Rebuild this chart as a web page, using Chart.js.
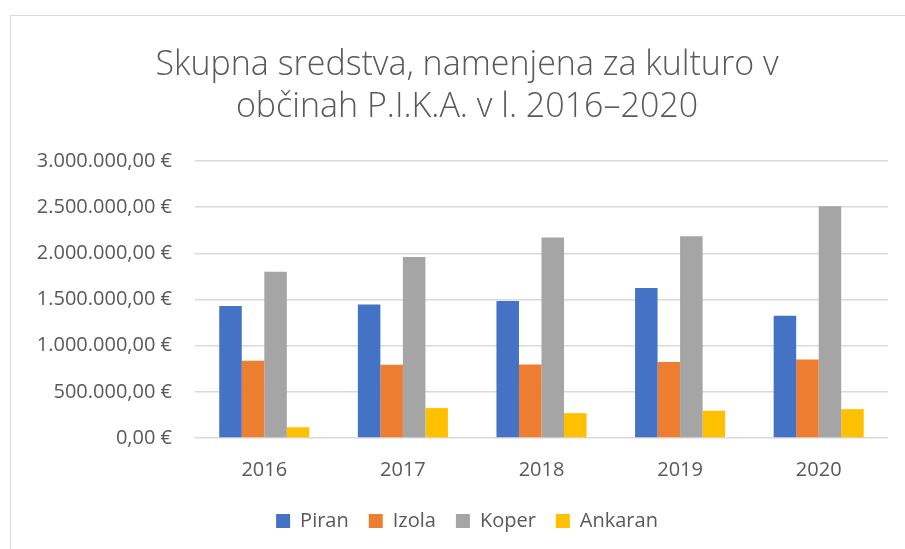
<!DOCTYPE html>
<html>
<head>
<meta charset="utf-8">
<script src="https://cdn.jsdelivr.net/npm/chart.js@4.4.1/dist/chart.umd.min.js"></script>
<style>
  html, body { margin: 0; padding: 0; background: #fff; overflow: hidden; }
  #frame {
    position: absolute; left: 10px; top: 15px;
    width: 912px; height: 545px;
    border-left: 1px solid #d9d9d9; border-top: 1px solid #d9d9d9;
  }
</style>
</head>
<body>
<div id="frame"><canvas id="chart" width="912" height="545"></canvas></div>
<script>
const years = ["2016", "2017", "2018", "2019", "2020"];
const piran = [1430000, 1447000, 1484000, 1625000, 1324000];
const izola = [836000, 793000, 796000, 822000, 851000];
const koper = [1800000, 1960000, 2171000, 2185000, 2509000];
const ankaran = [116000, 324000, 269000, 295000, 313000];
const titleLines = ["Skupna sredstva, namenjena za kulturo v", "občinah P.I.K.A. v l. 2016–2020"];

// 1500000 -> "1.500.000,00 €"
function euro(v) {
    const s = Math.round(v).toString().replace(/\B(?=(\d{3})+(?!\d))/g, ".");
    return s + ",00 €";
}

const textColor = "#595959";
const font = "'Open Sans', 'Liberation Sans', sans-serif";

// long euro labels stick out past the padding; widen the clip box of the y axis
const unclipLabels = {
    id: "unclipLabels",
    afterLayout(chart) {
        chart.scales.y.left = 0;
    },
};

const ctx = document.getElementById("chart");

new Chart(ctx, {
    type: "bar",
    data: {
        labels: years,
        datasets: [
            { label: "Piran", data: piran, backgroundColor: "#4472C4" },
            { label: "Izola", data: izola, backgroundColor: "#ED7D31" },
            { label: "Koper", data: koper, backgroundColor: "#A5A5A5" },
            { label: "Ankaran", data: ankaran, backgroundColor: "#FFC000" },
        ],
    },
    options: {
        responsive: false,
        animation: false,
        maintainAspectRatio: false,
        datasets: {
            bar: { categoryPercentage: 0.65, barPercentage: 1.0 },
        },
        layout: { padding: { left: 35, right: 35, top: 28, bottom: 20 } },
        scales: {
            x: {
                afterFit(scale) { scale.height = 53; },
                grid: { display: false },
                border: { display: false },
                ticks: { color: textColor, font: { family: font, size: 20 }, padding: 12 },
            },
            y: {
                min: 0,
                max: 3000000,
                afterFit(scale) { scale.width = 149; },
                grid: { color: "#d9d9d9", lineWidth: 1.5, drawTicks: false },
                border: { display: false },
                ticks: {
                    stepSize: 500000,
                    color: textColor,
                    padding: 23,
                    font: { family: font, size: 20 },
                    callback: (v) => euro(v),
                },
            },
        },
        plugins: {
            title: {
                display: true,
                text: titleLines,
                color: textColor,
                font: { family: font, size: 34, weight: "300", lineHeight: 1.25 },
                padding: { top: 0, bottom: 32 },
            },
            legend: {
                position: "bottom",
                labels: {
                    color: textColor,
                    font: { family: font, size: 20 },
                    boxWidth: 14,
                    boxHeight: 14,
                    padding: 20,
                },
            },
            tooltip: { enabled: false },
        },
    },
    plugins: [unclipLabels],
});
</script>
</body>
</html>
